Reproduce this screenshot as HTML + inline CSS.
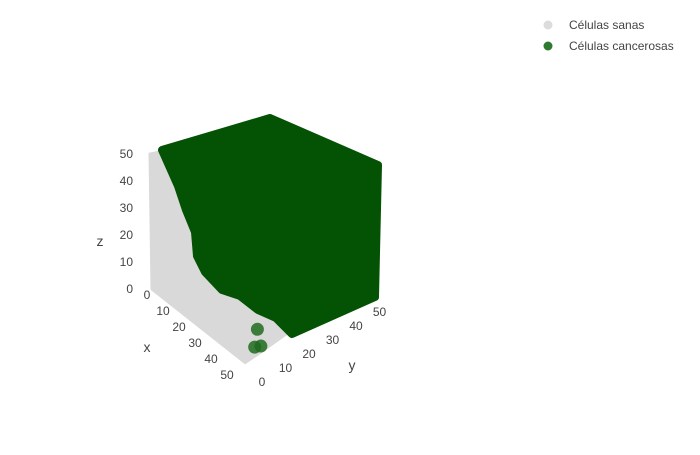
<!DOCTYPE html>
<html><head><meta charset="utf-8"><style>
body{margin:0;background:#fff}
svg{font-family:"Liberation Sans",sans-serif;}
</style></head><body>
<svg id="chart" width="700" height="450">
<rect width="700" height="450" fill="#fff"/>
<g id="scene"></g>
<g font-size="12" fill="#444">
 <g><circle cx="548" cy="25" r="4.5" fill="#dcdcdc"/><text x="569" y="29">Células sanas</text></g>
 <g><circle cx="548" cy="46" r="4.5" fill="#2e7a2e"/><text x="569" y="50">Células cancerosas</text></g>
</g>
</svg>
<script>
const zTicks=[0,10,20,30,40,50];
const xTicks=[0,10,20,30,40,50];
const yTicks=[0,10,20,30,40,50];
const cluster=[[44,10,5],[47,9,1],[45,8,0]];
const NS="http://www.w3.org/2000/svg";
const g=document.getElementById('scene');
function mk(t,a){const e=document.createElementNS(NS,t);for(const k in a)e.setAttribute(k,a[k]);g.appendChild(e);return e;}
function P(x,y,z){return [150+x*1.9+y*2.4-z*0.04, 290+x*1.5-y*1.3-z*2.74];}
const edge='162,150 270,118 378,165 375,297 292,334 284,326 276,318 258,310 240,296 222,290 205,272 197,256 195,232 186,210 178,186 170,168';
let w=mk('polygon',{points:[P(0,0,50),P(0,0,0),P(50,0,0),[290,333],[280,322],[258,310],[240,296],[222,290],[205,272],[197,256],[195,232],[186,210],[178,186],[170,168],[162,150]].map(p=>p.join(',')).join(' '),fill:'#d9d9d9'});


let ax=mk('polyline',{points:[[146,152],P(0,0,50),P(0,0,0),P(50,0,0),[292,334]].map(p=>p.join(',')).join(' '),fill:'none',stroke:'#fff','stroke-width':1});


let m=mk('polygon',{points:edge,fill:'#045204',stroke:'#045204','stroke-width':8,'stroke-linejoin':'round'});


cluster.forEach(c=>{const p=P(c[0],c[1],c[2]);const e=mk('circle',{cx:p[0],cy:p[1],r:6.5,fill:'#1f6b1f','fill-opacity':0.85});

});
zTicks.forEach(v=>{const e=mk('text',{x:133,y:293-v*2.7,'text-anchor':'end','font-size':12,fill:'#444'});e.textContent=v;

});
xTicks.forEach(v=>{const e=mk('text',{x:147+v*1.6,y:299+v*1.6,'text-anchor':'middle','font-size':12,fill:'#444'});e.textContent=v;

});
yTicks.forEach(v=>{const e=mk('text',{x:262+v*2.35,y:386-v*1.4,'text-anchor':'middle','font-size':12,fill:'#444'});e.textContent=v;

});
[['z',100,246,'z-axis-title'],['x',147,352,'x-axis-title'],['y',352,370,'y-axis-title']].forEach(t=>{const e=mk('text',{x:t[1],y:t[2],'text-anchor':'middle','font-size':14,fill:'#444'});e.textContent=t[0];

});
</script>
</body></html>
